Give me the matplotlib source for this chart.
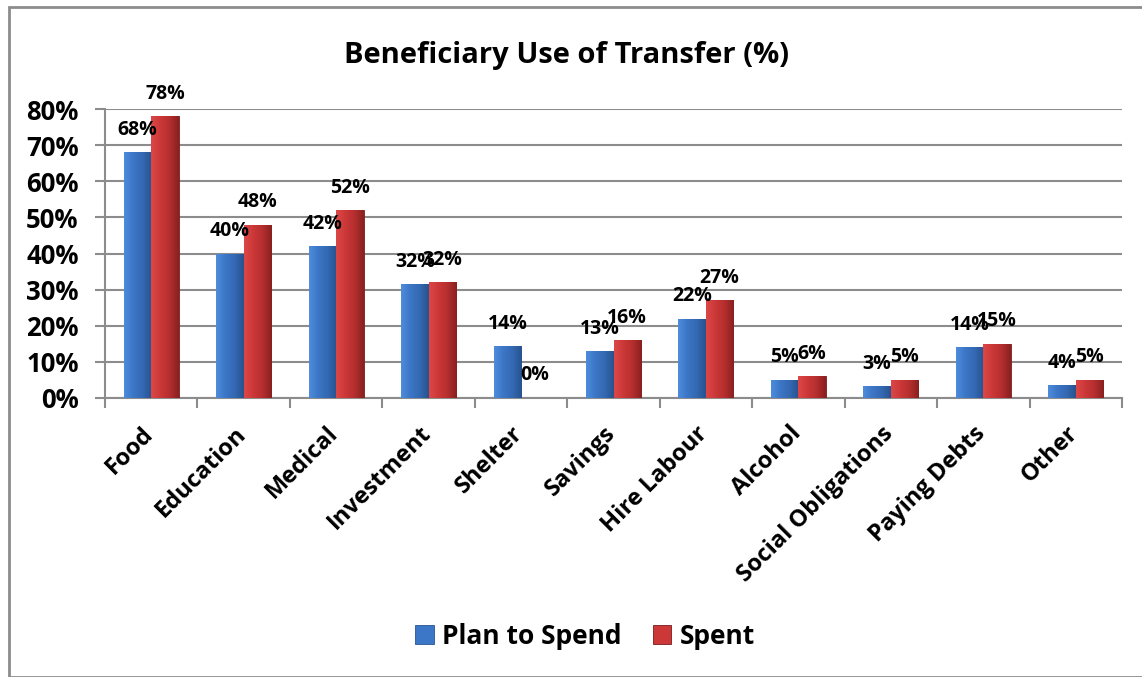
import numpy as np
import matplotlib.pyplot as plt
from matplotlib.patches import Rectangle
from matplotlib.colors import LinearSegmentedColormap

plt.rcParams['font.family'] = ['Open Sans', 'DejaVu Sans']
plt.rcParams['font.weight'] = 'bold'

# donnees
categories = ["Food", "Education", "Medical", "Investment", "Shelter", "Savings",
              "Hire Labour", "Alcohol", "Social Obligations", "Paying Debts", "Other"]
plan_to_spend = [68, 40, 42, 31.5, 14.3, 13, 22, 5, 3.2, 14, 3.5]
spent = [78, 48, 52, 32, 0, 16, 27, 6, 5, 15, 5]
plan_labels = ["68%", "40%", "42%", "32%", "14%", "13%", "22%", "5%", "3%", "14%", "4%"]
spent_labels = ["78%", "48%", "52%", "32%", "0%", "16%", "27%", "6%", "5%", "15%", "5%"]
yticks = [0, 10, 20, 30, 40, 50, 60, 70, 80]

blue = "#3c76c6"
red = "#cc3838"
cmap_blue = LinearSegmentedColormap.from_list("b", ["#4e8ddc", "#3c76c6", "#3469b3", "#28528f"])
cmap_red = LinearSegmentedColormap.from_list("r", ["#dc4646", "#cc3838", "#b52e2e", "#8a2020"])

fig = plt.figure(figsize=(11.42, 6.77), dpi=100)
# cadre gris autour du graphique
fig.patches.append(Rectangle((9 / 1142, 0), 1.1, 1 - 7 / 677, transform=fig.transFigure,
                             fill=False, edgecolor="#8c8c8c", linewidth=2))

ax = fig.add_axes([105 / 1142, 1 - 398 / 677, (1122 - 105) / 1142, (398 - 109) / 677])

x = np.arange(len(categories))
w = 0.297
b1 = ax.bar(x - w / 2, plan_to_spend, w, color=blue, edgecolor="#2a5590", linewidth=0.6,
            label="Plan to Spend", zorder=3)
b2 = ax.bar(x + w / 2, spent, w, color=red, edgecolor="#7a1c1c", linewidth=0.6,
            label="Spent", zorder=3)

# degrade horizontal dans chaque barre
grad = np.linspace(0, 1, 64).reshape(1, -1)
for bars, cm in [(b1, cmap_blue), (b2, cmap_red)]:
    for p in bars:
        if p.get_height() <= 0:
            continue
        im = ax.imshow(grad, cmap=cm, aspect="auto", zorder=3.5,
                       extent=[p.get_x(), p.get_x() + p.get_width(), 0, p.get_height()])
        im.set_clip_path(p)

for i in range(len(categories)):
    ax.annotate(plan_labels[i], (x[i] - w / 2, plan_to_spend[i]), xytext=(0, 9),
                textcoords="offset points", ha="center", va="bottom", fontsize=14,
                fontweight="bold", zorder=5)
    ax.annotate(spent_labels[i], (x[i] + w / 2, spent[i]), xytext=(0, 9),
                textcoords="offset points", ha="center", va="bottom", fontsize=14,
                fontweight="bold", zorder=5)

ax.set_xlim(-0.5, len(categories) - 0.5)
ax.set_ylim(0, 80)
ax.set_yticks(yticks)
ax.set_yticklabels([f"{v}%" for v in yticks], fontsize=18.5, fontweight="bold")
ax.yaxis.grid(True, color="#8c8c8c", linewidth=1.5, zorder=0)
ax.tick_params(axis="y", length=7, color="#8c8c8c", width=1.5, pad=12)

# graduations entre les categories
ax.set_xticks(np.arange(len(categories) + 1) - 0.5)
ax.set_xticklabels([])
ax.tick_params(axis="x", length=7, color="#8c8c8c", width=1.5)
for i, c in enumerate(categories):
    ax.annotate(c, (x[i], 0), xytext=(-7, -17), textcoords="offset points",
                ha="right", va="top", rotation=45, rotation_mode="anchor",
                fontsize=17, fontweight="bold", annotation_clip=False)

for s in ["top", "right"]:
    ax.spines[s].set_visible(False)
for s in ["left", "bottom"]:
    ax.spines[s].set_color("#8c8c8c")
    ax.spines[s].set_linewidth(1.5)

fig.text(567 / 1142, 1 - 55 / 677, "Beneficiary Use of Transfer (%)", ha="center",
         va="center", fontsize=21, fontweight="bold")

fig.legend(handles=[b1, b2], loc="center", bbox_to_anchor=(585 / 1142, 1 - 636 / 677),
           ncol=2, frameon=False, handlelength=0.7, handleheight=0.7,
           handletextpad=0.3, columnspacing=1.2, prop={"weight": "bold", "size": 19})

fig.savefig("out.png", dpi=100)
